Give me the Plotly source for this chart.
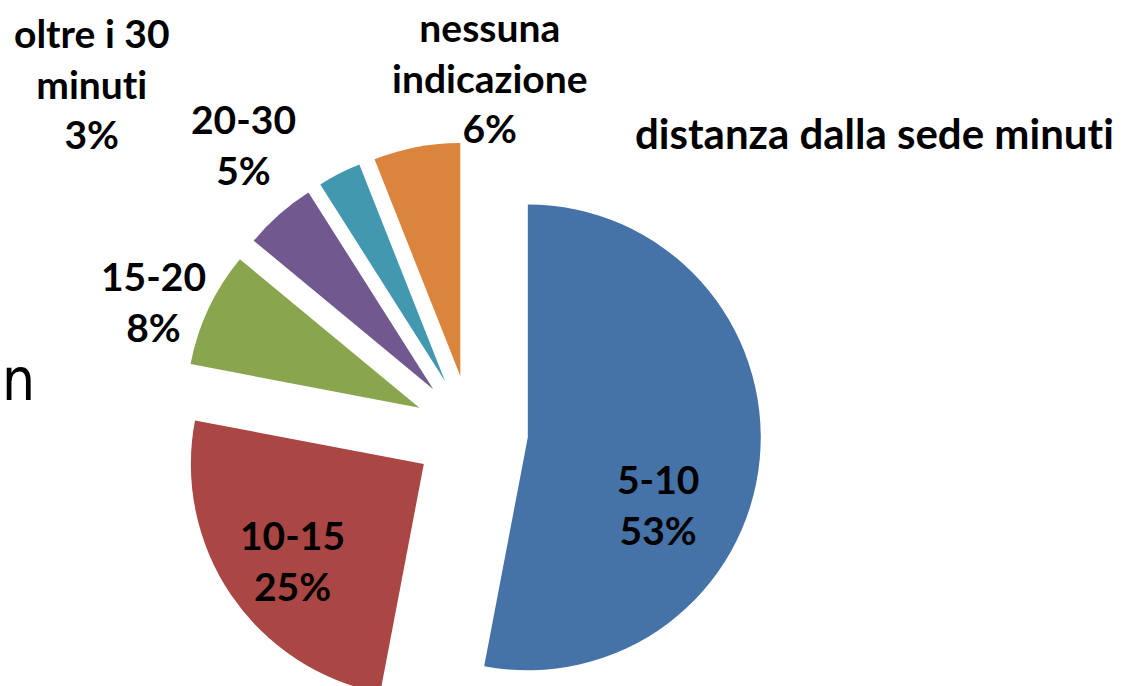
import plotly.graph_objects as go

# data
labels = ["5-10", "10-15", "15-20", "20-30", "oltre i 30 minuti", "nessuna indicazione"]
values = [53, 25, 8, 5, 3, 6]
colors = ["#4572A7", "#AA4643", "#89A54E", "#71588F", "#4198AF", "#DB843D"]
label_text = ["5-10", "10-15", "15-20", "20-30", "oltre i 30<br>minuti", "nessuna<br>indicazione"]
title_text = "distanza dalla sede minuti"

W, H = 1122, 722

def px(x, y):
    # pixel -> paper coords
    return x / W, 1 - y / H

def noliga(s):
    # Lato would fuse "ti" into a ligature, Calibri in the original does not
    return "<br>".join(f"<span style='font-variant-ligatures:none'>{p}</span>" for p in s.split("<br>"))

# label centres in pixels (same order as labels)
label_pos = [(658, 504), (292, 560), (153, 301), (243, 144), (92, 83), (490, 78)]

cx, cy, half = 471, 432, 290

fig = go.Figure()
fig.add_trace(go.Pie(
    labels=labels,
    values=values,
    sort=False,
    direction="clockwise",
    rotation=0,
    pull=[0.245] * len(values),
    marker=dict(colors=colors, line=dict(width=0)),
    textinfo="none",
    hoverinfo="label+percent",
    showlegend=False,
    domain=dict(x=[(cx - half) / W, (cx + half) / W],
                y=[1 - (cy + half) / H, 1 - (cy - half) / H]),
))

annotations = []
for txt, v, (x, y) in zip(label_text, values, label_pos):
    ax, ay = px(x, y)
    annotations.append(dict(
        x=ax, y=ay, xref="paper", yref="paper",
        text=noliga(f"{txt}<br>{v}%"), showarrow=False,
        xanchor="center", yanchor="middle",
        font=dict(family="Lato", size=39, color="#000000", weight="bold"),
    ))

tx, ty = px(1116, 133)
annotations.append(dict(
    x=tx, y=ty, xref="paper", yref="paper", text=noliga(title_text),
    showarrow=False, xanchor="right", yanchor="middle",
    font=dict(family="Lato", size=42, color="#000000", weight="bold"),
))
nx, ny = px(0, 380)
annotations.append(dict(
    x=nx, y=ny, xref="paper", yref="paper", text="n",
    showarrow=False, xanchor="left", yanchor="middle",
    font=dict(family="Liberation Sans Narrow, DejaVu Sans Condensed, Lato", size=58, color="#000000"),
))

fig.update_layout(
    width=W, height=H,
    margin=dict(l=0, r=0, t=0, b=0),
    paper_bgcolor="white",
    plot_bgcolor="white",
    annotations=annotations,
)

fig.write_html("out.html", config={"displayModeBar": False},
               post_script="document.body.style.margin='0';")
